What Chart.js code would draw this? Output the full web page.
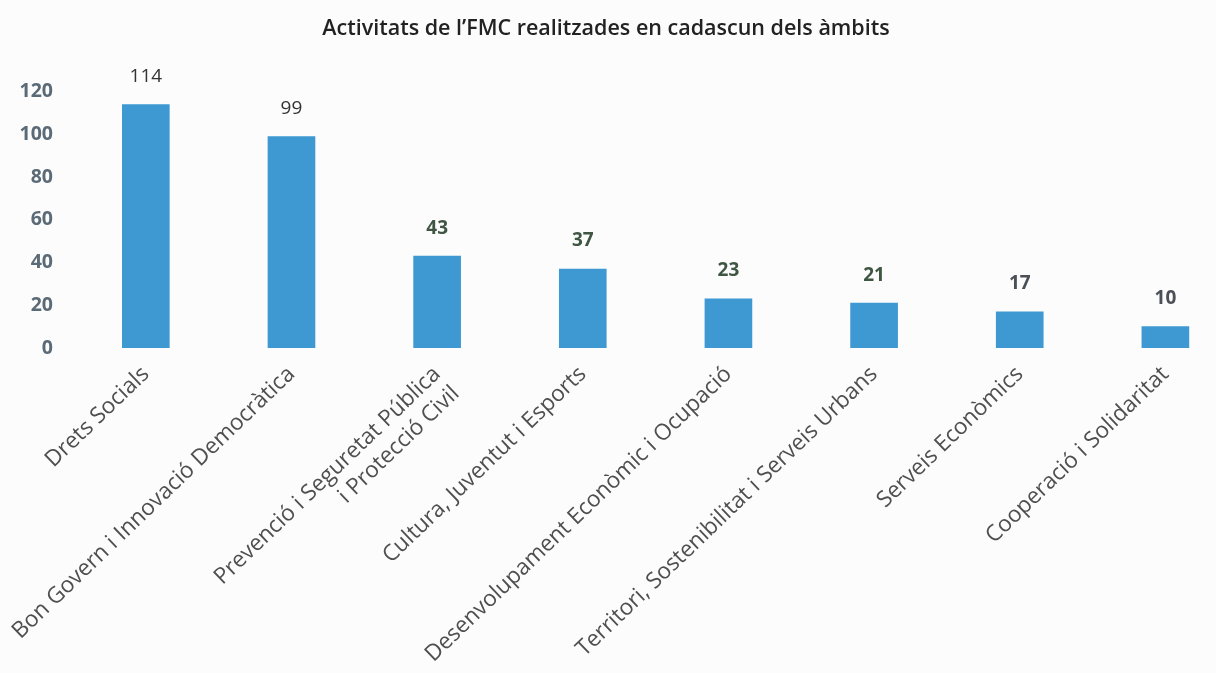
<!DOCTYPE html>
<html>
<head>
<meta charset="utf-8">
<script src="https://cdn.jsdelivr.net/npm/chart.js@4.4.1/dist/chart.umd.min.js"></script>
<style>
  html, body { margin: 0; padding: 0; background: #fcfcfd; }
  #wrap { width: 1216px; height: 673px; position: relative; }
</style>
</head>
<body>
<div id="wrap"><canvas id="c" width="1216" height="673"></canvas></div>
<script>
const titleText = "Activitats de l\u2019FMC realitzades en cadascun dels àmbits";
const categories = [
  "Drets Socials",
  "Bon Govern i Innovació Democràtica",
  ["Prevenció i Seguretat Pública", "i Protecció Civil"],
  "Cultura, Juventut i Esports",
  "Desenvolupament Econòmic i Ocupació",
  "Territori, Sostenibilitat i Serveis Urbans",
  "Serveis Econòmics",
  "Cooperació i Solidaritat"
];
const activitats = [114, 99, 43, 37, 23, 21, 17, 10];
const yTicks = [0, 20, 40, 60, 80, 100, 120];

const valueLabels = {
  id: 'valueLabels',
  afterDatasetsDraw(chart) {
    const ctx = chart.ctx;
    const meta = chart.getDatasetMeta(0);
    const styles = ['n','n','b','b','b','b','g','g'];
    ctx.save();
    ctx.textAlign = 'center';
    ctx.textBaseline = 'middle';
    meta.data.forEach((bar, i) => {
      const s = styles[i];
      ctx.font = (s === 'n' ? '400 ' : '700 ') + '19px "Open Sans"';
      ctx.fillStyle = s === 'b' ? '#3f5642' : (s === 'g' ? '#4b5057' : '#333333');
      ctx.fillText(String(activitats[i]), bar.x, bar.y - 28);
    });
    ctx.restore();
  }
};

new Chart(document.getElementById('c'), {
  type: 'bar',
  data: {
    datasets: [{
      data: activitats.map((v, i) => ({ x: i, y: v })),
      backgroundColor: '#3e98d2',
      barThickness: 47
    }]
  },
  options: {
    responsive: false,
    animation: false,
    layout: { padding: { top: 4, right: 4, left: 0, bottom: 4 } },
    plugins: {
      legend: { display: false },
      tooltip: { enabled: false },
      title: {
        display: true,
        text: titleText,
        color: '#222222',
        font: { family: '"Open Sans"', size: 21.5, weight: '600' },
        padding: { top: 12, bottom: 50 }
      }
    },
    scales: {
      x: {
        type: 'linear',
        offset: false,
        min: -0.5,
        max: 7.32,
        grid: { display: false, drawTicks: false, offset: false },
        border: { display: false },
        afterBuildTicks: (s) => { s.ticks = categories.map((_, i) => ({ value: i })); },
        afterFit: (s) => { s.height = 321; s.paddingLeft = 0; s.paddingRight = 0; },
        ticks: {
          autoSkip: false,
          minRotation: 43.8,
          maxRotation: 43.8,
          padding: 13,
          color: '#4f4f4f',
          font: { family: '"Open Sans"', size: 22.5 },
          callback: (v) => categories[v]
        }
      },
      y: {
        min: 0,
        max: 120,
        grid: { display: false, drawTicks: false },
        border: { display: false },
        afterBuildTicks: (s) => { s.ticks = yTicks.map(v => ({ value: v })); },
        afterFit: (s) => { s.width = 73; s.paddingTop = 0; s.paddingBottom = 0; },
        ticks: {
          padding: 20,
          color: '#5b6a77',
          font: { family: '"Open Sans"', size: 19.5, weight: '700' }
        }
      }
    }
  },
  plugins: [valueLabels]
});
</script>
</body>
</html>
